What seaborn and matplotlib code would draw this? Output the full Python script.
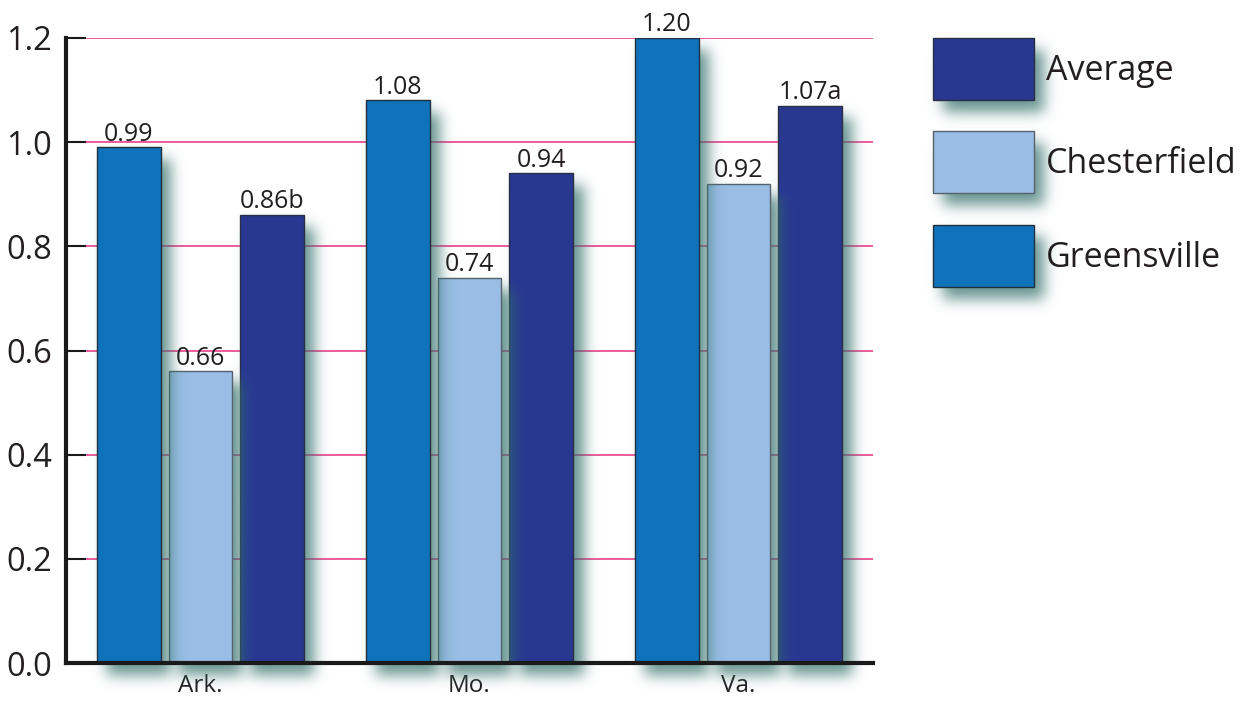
import math
import numpy as np
import pandas as pd
import matplotlib
matplotlib.use('Agg')
import matplotlib.pyplot as plt
import seaborn as sns
from matplotlib.patches import Rectangle

# ---------------- data ----------------
regions = ['Ark.', 'Mo.', 'Va.']
series = ['Greensville', 'Chesterfield', 'Average']
greensville = [0.99, 1.08, 1.20]
chesterfield = [0.56, 0.74, 0.92]
average = [0.86, 0.94, 1.07]
greensville_labels = ['0.99', '1.08', '1.20']
chesterfield_labels = ['0.66', '0.74', '0.92']
average_labels = ['0.86b', '0.94', '1.07a']
legend_order = ['Average', 'Chesterfield', 'Greensville']
yticks = [0.0, 0.2, 0.4, 0.6, 0.8, 1.0, 1.2]
ytick_labels = ['0.0', '0.2', '0.4', '0.6', '0.8', '1.0', '1.2']

colors = {'Greensville': '#0f73bc', 'Chesterfield': '#99bde4', 'Average': '#283891'}
edges = {'Greensville': '#22303c', 'Chesterfield': '#56636e', 'Average': '#2a2f45'}
TEXT = '#231f20'

df = pd.DataFrame({
    'region': regions * 3,
    'series': ['Greensville'] * 3 + ['Chesterfield'] * 3 + ['Average'] * 3,
    'value': greensville + chesterfield + average,
})

# ---------------- figure ----------------
sns.set_theme(style='white')
plt.rcParams['font.family'] = ['Open Sans', 'DejaVu Sans']

W, H = 1249, 702
fig = plt.figure(figsize=(W / 100, H / 100), dpi=100)
fig.patch.set_facecolor('white')
ax = fig.add_axes([66 / W, 1 - 663 / H, (873 - 66) / W, (663 - 38) / H])

sns.barplot(data=df, x='region', y='value', hue='series', hue_order=series,
            order=regions, palette=colors, saturation=1, width=0.8, gap=0.11,
            linewidth=1.0, errorbar=None, legend=False, ax=ax)

for cont, name in zip(ax.containers, series):
    for p in cont:
        p.set_edgecolor(edges[name])

XLIM = (-0.5, 2.5)
YLIM = (0, 1.2)
ax.set_xlim(*XLIM)
ax.set_ylim(*YLIM)
ax.set_xlabel('')
ax.set_ylabel('')
ax.set_yticks(yticks)
ax.set_yticklabels(ytick_labels)

ax.set_axisbelow(True)
ax.yaxis.grid(True, color='#eb4f96', linewidth=1.3)
ax.xaxis.grid(False)
for s in ['top', 'right']:
    ax.spines[s].set_visible(False)
for s in ['left', 'bottom']:
    ax.spines[s].set_visible(True)
    ax.spines[s].set_color('#1a1a1a')
    ax.spines[s].set_linewidth(3)
    ax.spines[s].set_zorder(60)
ax.spines['left'].set_capstyle('projecting')
ax.spines['bottom'].set_capstyle('projecting')

ax.tick_params(axis='y', direction='in', length=14.5, width=1.5, color='#1a1a1a',
               labelsize=23.5, pad=10, left=True, labelcolor=TEXT)
ax.tick_params(axis='x', length=0, labelsize=17.5, pad=8, bottom=False, labelcolor=TEXT)

label_lists = [greensville_labels, chesterfield_labels, average_labels]
for cont, labs in zip(ax.containers, label_lists):
    txts = ax.bar_label(cont, labels=labs, padding=0.5, fontsize=18, color=TEXT)
    for t in txts:
        t.set_annotation_clip(False)
        t.set_zorder(70)

# ---------------- legend (manual) ----------------
lax = fig.add_axes([0, 0, 1, 1])
lax.set_xlim(0, W)
lax.set_ylim(H, 0)
lax.axis('off')
leg_tops = [38, 131, 225]
leg_patches = []
for name, top in zip(legend_order, leg_tops):
    r = Rectangle((933, top), 101, 62, facecolor=colors[name], edgecolor=edges[name],
                  linewidth=1.0, zorder=10)
    lax.add_patch(r)
    leg_patches.append(r)
    lax.text(1046, top + 33, name, fontsize=24.5, color=TEXT, va='center', ha='left', zorder=11)

# ---------------- soft drop shadows ----------------
fig.canvas.draw()
inv = fig.transFigure.inverted()
erf = np.vectorize(math.erf)
SH_RGB = (0.20, 0.44, 0.42)


def add_shadow(target_ax, bb, z, dx=10, dy=-12, sigma=7.0, amax=0.75):
    x0, y0, x1, y1 = bb.x0 + dx, bb.y0 + dy, bb.x1 + dx, bb.y1 + dy
    m = 3.2 * sigma
    gx0, gx1 = math.floor(x0 - m), math.ceil(x1 + m)
    gy0, gy1 = math.floor(y0 - m), math.ceil(y1 + m)
    xs = np.arange(gx0, gx1) + 0.5
    ys = np.arange(gy0, gy1) + 0.5
    s = sigma * math.sqrt(2)
    px = 0.5 * (erf((xs - x0) / s) - erf((xs - x1) / s))
    py = 0.5 * (erf((ys - y0) / s) - erf((ys - y1) / s))
    img = np.zeros((len(ys), len(xs), 4))
    img[..., 0], img[..., 1], img[..., 2] = SH_RGB
    img[..., 3] = amax * np.outer(py, px)
    fx0, fy0 = inv.transform((gx0, gy0))
    fx1, fy1 = inv.transform((gx1, gy1))
    im = target_ax.imshow(img, extent=(fx0, fx1, fy0, fy1), origin='lower',
                          transform=fig.transFigure, interpolation='bilinear',
                          aspect='auto', zorder=z)
    im.set_clip_on(False)


bars = sorted([p for c in ax.containers for p in c], key=lambda p: p.get_x())
N = len(bars)
for k, p in enumerate(bars):
    z = 3 + 2 * (N - 1 - k)
    add_shadow(ax, p.get_window_extent(), z)
    p.set_zorder(z + 1)

for r in leg_patches:
    add_shadow(lax, r.get_window_extent(), 5)

ax.set_xlim(*XLIM)
ax.set_ylim(*YLIM)
lax.set_xlim(0, W)
lax.set_ylim(H, 0)

fig.savefig('out.png', dpi=100)
